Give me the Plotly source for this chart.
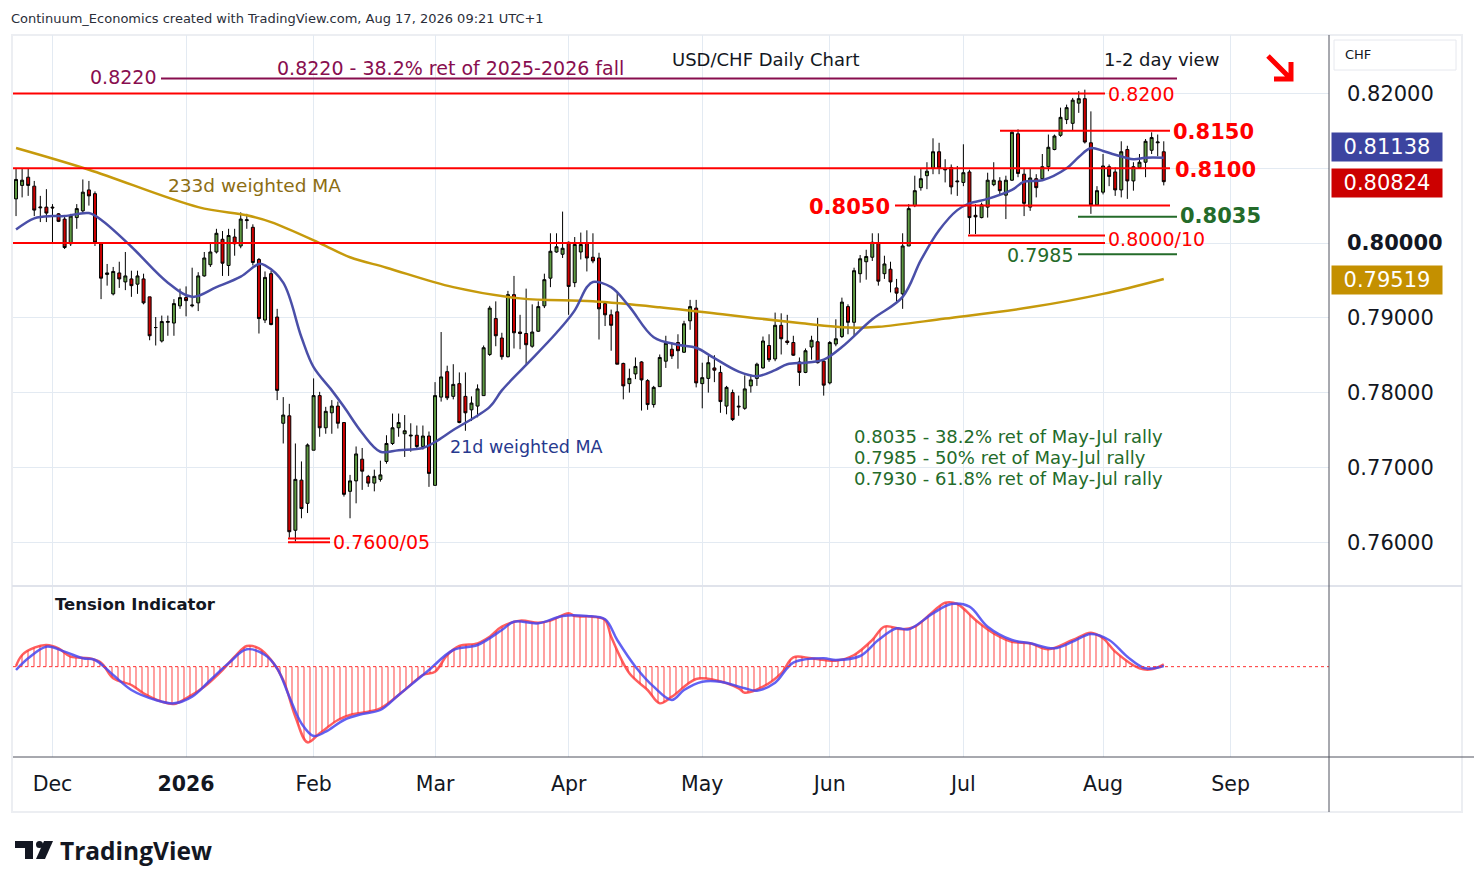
import pandas as pd
import plotly.graph_objects as go

# trading days on the chart (weekdays, Christmas and New Year's Day not traded)
dates = [d for d in pd.bdate_range("2025-11-21", "2026-08-17")
         if d.strftime("%m-%d") not in ("12-25", "01-01")]

# daily USD/CHF candles
open_px = [
    .8059, .8077, .8088, .8076, .8047, .8048, .8048, .8039, .8032, .7999,
    .8034, .8043, .8071, .8066, .7999, .7958, .7932, .7960, .7948, .7952,
    .7945, .7952, .7928, .7887, .7869, .7894, .7893, .7916, .7927, .7916,
    .7920, .7956, .7971, .7988, .8005, .7970, .8008, .7996, .8030, .8021,
    .7978, .7897, .7959, .7901, .7759, .7769, .7616, .7683, .7652, .7723,
    .7796, .7753, .7773, .7782, .7760, .7668, .7682, .7711, .7688, .7679,
    .7684, .7708, .7732, .7753, .7745, .7742, .7743, .7728, .7742, .7676,
    .7794, .7828, .7795, .7812, .7795, .7777, .7782, .7796, .7851, .7899,
    .7873, .7848, .7931, .7881, .7879, .7862, .7882, .7916, .7953, .7988,
    .7985, .8001, .7947, .7988, .8000, .7981, .7980, .7919, .7904, .7908,
    .7839, .7812, .7825, .7841, .7816, .7784, .7808, .7842, .7858, .7867,
    .7854, .7896, .7913, .7812, .7819, .7833, .7827, .7782, .7800, .7782,
    .7779, .7809, .7819, .7833, .7863, .7845, .7890, .7869, .7867, .7841,
    .7827, .7861, .7868, .7842, .7813, .7865, .7875, .7915, .7894, .7959,
    .7975, .7981, .8000, .7959, .7965, .7940, .7932, .7996, .8050, .8074,
    .8090, .8100, .8122, .8099, .8101, .8083, .8081, .8095, .8037, .8034,
    .8048, .8078, .8083, .8064, .8084, .8146, .8092, .8048, .8086, .8086,
    .8102, .8125, .8144, .8165, .8160, .8187, .8193, .8134, .8051, .8068,
    .8102, .8095, .8071, .8125, .8083, .8101, .8108, .8124, .8134, .8122,
]
high_px = [
    .8100, .8100, .8100, .8083, .8063, .8072, .8052, .8040, .8036, .8039,
    .8052, .8085, .8083, .8069, .8001, .7972, .7968, .7975, .7988, .7963,
    .7963, .7959, .7928, .7901, .7903, .7903, .7925, .7939, .7942, .7967,
    .7961, .7988, .8001, .8019, .8016, .8019, .8019, .8041, .8039, .8025,
    .7980, .7962, .7963, .7912, .7794, .7785, .7732, .7708, .7732, .7819,
    .7801, .7781, .7790, .7788, .7760, .7690, .7728, .7726, .7690, .7697,
    .7709, .7743, .7772, .7772, .7770, .7759, .7756, .7756, .7748, .7814,
    .7881, .7836, .7838, .7827, .7827, .7795, .7811, .7863, .7916, .7922,
    .7880, .7936, .7956, .7904, .7939, .7918, .7922, .7959, .8013, .8013,
    .8042, .8002, .8008, .8014, .8017, .8013, .7987, .7922, .7911, .7933,
    .7840, .7832, .7847, .7842, .7818, .7809, .7851, .7876, .7867, .7878,
    .7896, .7924, .7924, .7840, .7849, .7850, .7836, .7809, .7804, .7796,
    .7823, .7824, .7840, .7875, .7878, .7907, .7906, .7904, .7876, .7847,
    .7859, .7876, .7900, .7844, .7869, .7898, .7927, .7918, .7967, .7984,
    .7991, .8013, .8013, .7983, .7975, .7952, .8013, .8052, .8090, .8100,
    .8108, .8140, .8134, .8112, .8105, .8103, .8132, .8098, .8052, .8054,
    .8094, .8108, .8088, .8090, .8150, .8152, .8099, .8099, .8092, .8119,
    .8145, .8145, .8181, .8185, .8194, .8203, .8205, .8176, .8076, .8119,
    .8105, .8101, .8136, .8130, .8108, .8119, .8139, .8148, .8145, .8136,
]
low_px = [
    .8036, .8061, .8063, .8036, .8028, .8028, .7999, .8028, .7992, .7996,
    .8019, .8039, .8050, .7996, .7925, .7943, .7930, .7940, .7937, .7928,
    .7932, .7918, .7870, .7863, .7867, .7876, .7876, .7912, .7902, .7914,
    .7909, .7955, .7968, .7986, .7956, .7956, .7983, .7993, .8019, .7970,
    .7879, .7893, .7890, .7790, .7732, .7606, .7601, .7632, .7639, .7723,
    .7741, .7745, .7745, .7752, .7661, .7632, .7652, .7670, .7674, .7668,
    .7681, .7705, .7730, .7741, .7714, .7721, .7724, .7724, .7674, .7676,
    .7788, .7790, .7791, .7759, .7749, .7762, .7767, .7796, .7849, .7862,
    .7844, .7847, .7859, .7858, .7836, .7860, .7881, .7913, .7941, .7987,
    .7980, .7904, .7941, .7978, .7962, .7973, .7871, .7889, .7856, .7838,
    .7791, .7800, .7818, .7776, .7777, .7780, .7808, .7833, .7845, .7832,
    .7853, .7884, .7807, .7779, .7800, .7814, .7773, .7771, .7762, .7769,
    .7777, .7800, .7809, .7832, .7841, .7842, .7851, .7864, .7849, .7809,
    .7826, .7844, .7839, .7796, .7811, .7862, .7873, .7878, .7876, .7947,
    .7951, .7976, .7943, .7952, .7934, .7922, .7912, .7996, .8048, .8070,
    .8072, .8092, .8092, .8081, .8065, .8063, .8076, .8012, .8012, .8033,
    .8034, .8076, .8065, .8032, .8083, .8088, .8036, .8043, .8061, .8085,
    .8096, .8124, .8142, .8159, .8150, .8174, .8133, .8039, .8050, .8065,
    .8076, .8063, .8061, .8059, .8070, .8099, .8088, .8119, .8116, .8077,
]
close_px = [
    .8085, .8084, .8077, .8044, .8048, .8040, .8047, .8029, .7994, .8036,
    .8046, .8068, .8063, .8001, .7953, .7960, .7962, .7952, .7956, .7943,
    .7956, .7920, .7876, .7887, .7895, .7895, .7919, .7927, .7923, .7917,
    .7956, .7980, .7988, .8013, .7973, .8010, .7999, .8032, .8031, .7974,
    .7899, .7954, .7891, .7803, .7770, .7614, .7684, .7645, .7730, .7796,
    .7753, .7775, .7782, .7759, .7664, .7682, .7718, .7695, .7679, .7688,
    .7690, .7732, .7753, .7760, .7749, .7743, .7728, .7742, .7692, .7796,
    .7821, .7793, .7811, .7760, .7773, .7786, .7805, .7860, .7913, .7876,
    .7848, .7931, .7880, .7879, .7864, .7881, .7915, .7951, .7989, .7995,
    .7993, .7942, .7998, .7998, .7980, .7976, .7912, .7904, .7890, .7838,
    .7809, .7819, .7835, .7817, .7784, .7807, .7847, .7866, .7849, .7856,
    .7892, .7915, .7813, .7820, .7840, .7830, .7788, .7807, .7764, .7781,
    .7805, .7817, .7838, .7869, .7844, .7890, .7872, .7867, .7850, .7827,
    .7856, .7870, .7840, .7810, .7867, .7872, .7921, .7894, .7963, .7979,
    .7982, .8001, .7949, .7972, .7948, .7933, .7996, .8046, .8070, .8086,
    .8096, .8122, .8100, .8098, .8075, .8082, .8094, .8034, .8035, .8051,
    .8084, .8084, .8070, .8084, .8148, .8093, .8053, .8087, .8074, .8102,
    .8128, .8143, .8168, .8181, .8191, .8193, .8135, .8051, .8070, .8103,
    .8089, .8071, .8122, .8083, .8102, .8108, .8136, .8141, .8135, .8082,
]

# moving averages, sampled along the drawn lines (bar number, value)
ma21_bar = [1, 4, 7, 9, 13, 15, 20, 26, 30, 34, 38, 41, 42, 45, 48, 50, 53, 55,
            58, 61, 64, 68, 70, 73, 79, 81, 85, 90, 93, 95, 96, 99, 102, 106,
            110, 113, 116, 120, 123, 126, 128, 131, 134, 137, 142, 147, 150,
            153, 156, 158, 161, 165, 167, 170, 174, 176, 178, 180, 182, 185,
            187, 190]
ma21_val = [.8018, .8033, .8036, .8036, .8040, .8031, .7995, .7947, .7928,
            .7941, .7955, .7972, .7970, .7947, .7874, .7834, .7803, .7781,
            .7746, .7721, .7723, .7726, .7734, .7750, .7781, .7803, .7837,
            .7880, .7910, .7941, .7948, .7941, .7915, .7874, .7864, .7860,
            .7846, .7828, .7822, .7830, .7838, .7840, .7844, .7861, .7898,
            .7928, .7977, .8017, .8044, .8053, .8059, .8071, .8082, .8084,
            .8100, .8115, .8127, .8123, .8118, .8112, .8114, .8114]
ma233_bar = [1, 13, 31, 39, 43, 51, 56, 62, 73, 84, 96, 107, 118, 130, 138,
             143, 154, 168, 180, 190]
ma233_val = [.8127, .8098, .8048, .8037, .8028, .8000, .7981, .7967, .7941,
             .7926, .7922, .7914, .7904, .7893, .7887, .7888, .7899, .7914,
             .7932, .7952]

# tension indicator (red = fast line with hatch, blue = slow line)
fast_bar = [1, 2, 4, 6, 8, 10, 13, 15, 17, 20, 22, 25, 27, 29, 32, 35, 37, 39,
            41, 43, 45, 47, 49, 51, 54, 56, 59, 61, 65, 68, 70, 72, 74, 77, 79,
            81, 84, 87, 89, 92, 93, 96, 98, 99, 102, 105, 107, 109, 113, 116,
            120, 121, 124, 127, 129, 132, 136, 139, 142, 144, 147, 149, 152,
            154, 156, 159, 162, 165, 168, 171, 175, 178, 180, 182, 186, 188,
            190]
fast_val = [2, 35, 57, 65, 55, 30, 25, 12, -35, -55, -80, -105, -112, -95, -60,
            -10, 30, 62, 55, 20, -40, -150, -227, -200, -160, -145, -135, -125,
            -70, -25, -15, 35, 62, 70, 90, 120, 138, 132, 138, 160, 152, 150,
            140, 90, -20, -70, -110, -90, -37, -40, -65, -78, -60, -20, 28, 25,
            18, 35, 80, 120, 112, 120, 165, 192, 188, 140, 100, 75, 70, 52, 80,
            102, 85, 45, -5, -8, 7]
slow_bar = [1, 3, 6, 9, 12, 14, 17, 20, 24, 27, 30, 33, 36, 39, 42, 44, 46, 48,
            50, 52, 55, 58, 61, 64, 67, 69, 73, 77, 81, 83, 87, 91, 95, 98, 100,
            103, 106, 109, 111, 114, 117, 121, 123, 126, 129, 134, 136, 140,
            143, 146, 148, 152, 155, 158, 161, 165, 168, 172, 175, 178, 181,
            184, 187, 190]
slow_val = [-10, 25, 60, 45, 25, 20, -25, -70, -100, -110, -90, -40, 10, 52, 35,
            -5, -90, -170, -208, -195, -160, -142, -130, -85, -40, -10, 50, 65,
            110, 135, 130, 152, 152, 142, 80, 0, -60, -100, -70, -45, -45, -65,
            -72, -48, 12, 25, 20, 32, 80, 115, 112, 160, 188, 180, 120, 80, 70,
            55, 75, 98, 80, 30, -5, 2]

# support / resistance levels drawn on the chart
level_price = [0.8220, 0.8200, 0.8150, 0.8100, 0.8050, 0.8035, 0.8010, 0.8000,
               0.7985, 0.7605, 0.7600]

month_ticks = ["2025-12-01", "2026-01-02", "2026-02-02", "2026-03-02",
               "2026-04-01", "2026-05-01", "2026-06-01", "2026-07-01",
               "2026-08-03", "2026-09-01"]
month_labels = ["Dec", "<b>2026</b>", "Feb", "Mar", "Apr", "May", "Jun", "Jul",
                "Aug", "Sep"]
price_ticks = [0.76, 0.77, 0.78, 0.79, 0.80, 0.81, 0.82]
price_labels = ["0.76000", "0.77000", "0.78000", "0.79000", "<b>0.80000</b>",
                "", "0.82000"]

# --- styling ---------------------------------------------------------------
FONT = "DejaVu Sans"
RED = "#ff0000"
GREEN = "#246b2a"
MAROON = "#880e4f"
GRID = "#e3eaf2"
W, H = 1474, 887
L, R, T, B = 13, 1329, 35, 757   # plot area in pixels


def px(x):
    return (x - L) / (R - L)


def py(y):
    return (B - y) / (B - T)


def at(bars):
    return [dates[i - 1] for i in bars]


fig = go.Figure()

fig.add_trace(go.Candlestick(
    x=dates, open=open_px, high=high_px, low=low_px, close=close_px,
    increasing=dict(fillcolor="#5e9a42", line=dict(color="#000000", width=1)),
    decreasing=dict(fillcolor="#cc0000", line=dict(color="#000000", width=1)),
    whiskerwidth=0, hoverinfo="skip",
))
fig.add_trace(go.Scatter(x=at(ma233_bar), y=ma233_val, mode="lines",
                         line=dict(color="#c69a0c", width=2.5, shape="spline")))
fig.add_trace(go.Scatter(x=at(ma21_bar), y=ma21_val, mode="lines",
                         line=dict(color="#4a4fa8", width=2.5, shape="spline")))

# tension indicator pane
fig.add_trace(go.Scatter(
    x=at(fast_bar), y=fast_val, mode="lines", yaxis="y2",
    line=dict(color="rgba(255,40,40,0.75)", width=2.5, shape="spline"),
    fill="tozeroy", fillcolor="rgba(0,0,0,0)",
    fillpattern=dict(shape="|", fgcolor="rgba(255,20,20,0.9)",
                     bgcolor="rgba(0,0,0,0)", size=6, solidity=0.3),
))
fig.add_trace(go.Scatter(
    x=at(slow_bar), y=slow_val, mode="lines", yaxis="y2",
    line=dict(color="rgba(70,70,240,0.85)", width=2.5, shape="spline"),
))

shapes = []
# level lines: (x start px, x end px, colour)
level_style = [(161, 1177, MAROON), (13, 1105, RED), (1000, 1170, RED),
               (13, 1170, RED), (895, 1170, RED), (1078, 1177, GREEN),
               (968, 1105, RED), (13, 1105, RED), (1078, 1177, GREEN),
               (288, 330, RED), (288, 330, RED)]
for price, (x0, x1, col) in zip(level_price, level_style):
    shapes.append(dict(type="line", xref="paper", yref="y", x0=px(x0), x1=px(x1),
                       y0=price, y1=price, line=dict(color=col, width=2),
                       layer="above"))

# zero line of the indicator
shapes.append(dict(type="line", xref="paper", yref="y2", x0=0, x1=1, y0=0, y1=0,
                   line=dict(color="#ff3030", width=1, dash="dot")))
# pane separator, axis lines and the outer frame
shapes += [
    dict(type="line", xref="paper", yref="paper", x0=px(12), x1=px(1462),
         y0=py(586), y1=py(586), line=dict(color="#e0e3eb", width=2)),
    dict(type="line", xref="paper", yref="paper", x0=px(13), x1=px(1474),
         y0=py(757), y1=py(757), line=dict(color="#50535e", width=1)),
    dict(type="line", xref="paper", yref="paper", x0=1, x1=1,
         y0=py(35), y1=py(812), line=dict(color="#50535e", width=1)),
    dict(type="rect", xref="paper", yref="paper", x0=px(12), x1=px(1462),
         y0=py(35), y1=py(812), line=dict(color="#eceef2", width=2),
         layer="below"),
    # CHF box
    dict(type="rect", xref="paper", yref="paper", x0=px(1334), x1=px(1456),
         y0=py(40), y1=py(70), line=dict(color="#e6e8ee", width=1)),
    # red arrow top right
    dict(type="path", xref="paper", yref="paper",
         path=(f"M {px(1268)},{py(56)} L {px(1291)},{py(79)} "
               f"M {px(1291)},{py(62)} L {px(1291)},{py(79)} L {px(1274)},{py(79)}"),
         line=dict(color=RED, width=5)),
    # TradingView logo
    dict(type="path", xref="paper", yref="paper",
         path=(f"M {px(15)},{py(841)} L {px(33)},{py(841)} L {px(33)},{py(859)} "
               f"L {px(25)},{py(859)} L {px(25)},{py(848)} L {px(15)},{py(848)} Z"),
         fillcolor="#131722", line=dict(width=0)),
    dict(type="circle", xref="paper", yref="paper", x0=px(36), x1=px(43),
         y0=py(841), y1=py(848), fillcolor="#131722", line=dict(width=0)),
    dict(type="path", xref="paper", yref="paper",
         path=(f"M {px(44)},{py(841)} L {px(53)},{py(841)} L {px(45)},{py(859)} "
               f"L {px(36)},{py(859)} Z"),
         fillcolor="#131722", line=dict(width=0)),
]


def label(text, x, y, size, color, anchor="left", bold=False, family=FONT):
    if bold:
        text = f"<b>{text}</b>"
    return dict(text=text, xref="paper", yref="paper", x=px(x), y=py(y),
                xanchor=anchor, yanchor="middle", showarrow=False, borderpad=0,
                font=dict(family=family, size=size, color=color))


ann = [
    label("Continuum_Economics created with TradingView.com, Aug 17, 2026 09:21 UTC+1",
          10, 19, 13, "#2a2e39"),
    label("0.8220", 157, 77, 19, MAROON, "right"),
    label("0.8220 - 38.2% ret of 2025-2026 fall", 450, 68, 19, MAROON, "center"),
    label("USD/CHF Daily Chart", 765, 59, 18, "#131722", "center"),
    label("1-2 day view", 1161, 59, 18, "#131722", "center"),
    label("0.8200", 1107, 94, 19, RED),
    label("0.8150", 1172, 132, 21, RED, bold=True),
    label("0.8100", 1174, 170, 21, RED, bold=True),
    label("0.8050", 891, 207, 21, RED, "right", bold=True),
    label("0.8035", 1179, 216, 21, GREEN, bold=True),
    label("0.8000/10", 1107, 239, 19, RED),
    label("0.7985", 1074, 255, 19, GREEN, "right"),
    label("0.7600/05", 332, 542, 19, RED),
    label("233d weighted MA", 167, 185, 18.5, "#8c6d12"),
    label("21d weighted MA", 449, 447, 17.5, "#27398e"),
    label("0.8035 - 38.2% ret of May-Jul rally", 853, 436, 18, GREEN),
    label("0.7985 - 50% ret of May-Jul rally", 853, 457, 18, GREEN),
    label("0.7930 - 61.8% ret of May-Jul rally", 853, 478, 18, GREEN),
    label("Tension Indicator", 54, 604, 16.5, "#131722", bold=True),
    label("CHF", 1344, 55, 13, "#131722"),
    label("<b>TradingView</b>", 59, 850, 24.5, "#131722", family="Open Sans"),
]

# last-value tags on the price scale
for text, y, col in [("0.81138", 147, "#3c44a0"), ("0.80824", 183, "#cc0000"),
                     ("0.79519", 280, "#c49000")]:
    ann.append(dict(text=text, xref="paper", yref="paper", x=px(1387), y=py(y),
                    xanchor="center", yanchor="middle", showarrow=False,
                    bgcolor=col, width=108, height=26, borderpad=1,
                    font=dict(family=FONT, size=21, color="#ffffff")))

fig.update_layout(
    width=W, height=H,
    margin=dict(l=L, r=W - R, t=T, b=H - B),
    paper_bgcolor="#ffffff", plot_bgcolor="#ffffff",
    showlegend=False, hovermode=False,
    font=dict(family=FONT, color="#131722"),
    xaxis=dict(
        type="date", anchor="y2", domain=[0, 1],
        range=["2025-11-20 12:00", "2026-09-23 05:00"],
        rangebreaks=[dict(bounds=["sat", "mon"]),
                     dict(values=["2025-12-25", "2026-01-01"])],
        tickvals=month_ticks, ticktext=month_labels,
        tickfont=dict(size=20.5, color="#131722"), ticklabelstandoff=12,
        showgrid=True, gridcolor=GRID, gridwidth=1,
        ticks="", showline=False, zeroline=False,
        rangeslider=dict(visible=False), fixedrange=True,
    ),
    yaxis=dict(
        domain=[(B - 585) / (B - T), 1], range=[0.75428, 0.82781],
        side="right", anchor="x",
        tickvals=price_ticks, ticktext=price_labels,
        tickfont=dict(size=21, color="#131722"), ticklabelstandoff=17,
        showgrid=True, gridcolor=GRID, gridwidth=1,
        showline=False, zeroline=False, fixedrange=True,
    ),
    yaxis2=dict(
        domain=[0, (B - 587) / (B - T)], range=[-271, 239], anchor="x",
        showticklabels=False, showgrid=False, zeroline=False, fixedrange=True,
    ),
    shapes=shapes,
    annotations=ann,
)

fig.write_html("out.html", config={"displayModeBar": False},
               post_script="document.body.style.margin = '0';")
